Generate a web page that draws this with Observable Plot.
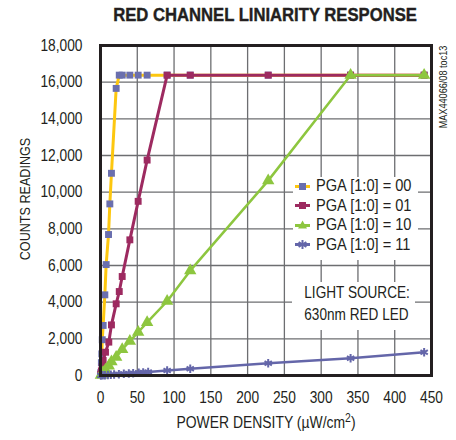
<!DOCTYPE html>
<html><head><meta charset="utf-8">
<script src="https://cdn.jsdelivr.net/npm/d3@7"></script>
<script src="https://cdn.jsdelivr.net/npm/@observablehq/plot@0.6"></script>
<style>
body{margin:0;background:#fff;}
#wrap{position:relative;width:456px;height:440px;font-family:"Liberation Sans",Arial,sans-serif;color:#231f20;overflow:hidden;}
#title{height:30px;position:relative;}
#title span{position:absolute;left:65px;width:400px;text-align:center;top:5px;font-size:18.5px;font-weight:bold;line-height:20px;-webkit-text-stroke:0.4px #231f20;transform:scaleX(0.9);transform-origin:50% 50%;}
.abs{position:absolute;white-space:nowrap;}
#legend{position:absolute;left:293px;top:177px;width:125px;height:83px;background:#fff;}
#light{position:absolute;left:292px;top:282px;width:123px;height:48px;background:#fff;}
</style></head>
<body><div id="wrap">
<div id="title"><span>RED CHANNEL LINIARITY RESPONSE</span></div>
<div id="chart"></div>
<div id="legend"></div>
<div id="light"></div>
</div>
<script>
// ---- data ----
const xTicks = [0, 50, 100, 150, 200, 250, 300, 350, 400, 450];
const yTicks = [0, 2000, 4000, 6000, 8000, 10000, 12000, 14000, 16000, 18000];
const seriesNames = ["PGA [1:0] = 00", "PGA [1:0] = 01", "PGA [1:0] = 10", "PGA [1:0] = 11"];

const pga00X = [0.3, 1.2, 1.8, 2.4, 3.6, 5.9, 7.7, 10.9, 12.7, 14.9, 21.3, 25.5, 29.5, 39.9, 51.2, 63.4, 90.6, 122, 228, 340, 440];
const pga00Y = [150, 700, 1180, 1950, 2730, 4400, 6050, 7690, 9360, 11030, 15660, 16383, 16383, 16383, 16383, 16383, 16383, 16383, 16383, 16383, 16383];

const pga01X = [0.3, 1.2, 2.3, 3.6, 6.8, 11.3, 14.9, 21.3, 25.5, 29.5, 39.9, 51.2, 63.4, 90.6, 122, 228, 340, 440];
const pga01Y = [60, 250, 480, 820, 1270, 1820, 2760, 3910, 4580, 5400, 7400, 9500, 11750, 16383, 16383, 16383, 16383, 16383];

const pga10X = [0.5, 2.3, 3.6, 6.8, 11.3, 14.9, 21.3, 29.5, 39.9, 51.2, 63.4, 90.6, 122, 228, 340, 440];
const pga10Y = [20, 110, 170, 310, 520, 760, 1000, 1420, 1870, 2360, 2900, 4050, 5720, 10630, 16383, 16383];

const pga11X = [0.5, 3, 6, 10, 14, 18.5, 25, 31.7, 38.5, 44.4, 52, 58, 64.8, 90.6, 122, 228, 340, 440];
const pga11Y = [2, 9, 18, 29, 41, 54, 73, 92, 112, 129, 151, 168, 188, 272, 365, 670, 943, 1270];

const lineColors = ["#fdc70f", "#9d2a60", "#8dc63f", "#6466a9"];
const markerColors = ["#6a6fae", "#9d2a60", "#8dc63f", "#6466a9"];
const symbols = ["square", "square", "triangle", "asterisk"];

const xs = [pga00X, pga01X, pga10X, pga11X];
const ys = [pga00Y, pga01Y, pga10Y, pga11Y];

const seriesData = seriesNames.map((name, k) => xs[k].map((x, i) => ({series: name, x, y: ys[k][i]})));

const marks = [
  Plot.gridX(xTicks, {stroke: "#6d6e71", strokeOpacity: 1, strokeWidth: 1.3}),
  Plot.gridY(yTicks, {stroke: "#6d6e71", strokeOpacity: 1, strokeWidth: 1.3})
];
seriesData.forEach((d, k) => {
  marks.push(Plot.line(d, {x: "x", y: "y", stroke: lineColors[k], strokeWidth: k < 2 ? 3 : 2.5}));
  if (symbols[k] === "asterisk") {
    marks.push(Plot.dot(d, {x: "x", y: "y", symbol: "asterisk", stroke: markerColors[k], strokeWidth: 2, r: 4}));
  } else {
    marks.push(Plot.dot(d, {x: "x", y: "y", symbol: symbols[k], fill: markerColors[k], r: symbols[k] === "triangle" ? 4.6 : 3.9}));
  }
});
marks.push(Plot.frame({stroke: "#231f20", strokeWidth: 3}));
marks.push(Plot.axisX(xTicks, {tickSize: 0, tickPadding: 16, label: null, fontSize: 16}));
marks.push(Plot.axisY(yTicks, {tickSize: 0, tickPadding: 18, label: null, tickFormat: d3.format(","), fontSize: 16}));

const chart = Plot.plot({
  width: 456, height: 410,
  marginTop: 15, marginBottom: 65, marginLeft: 100, marginRight: 25,
  x: {domain: [0, 450]},
  y: {domain: [0, 18000]},
  style: {fontFamily: '"Liberation Sans", Arial, sans-serif', fontSize: "16px", color: "#231f20", background: "#fff"},
  marks
});
document.getElementById("chart").appendChild(chart);
// condense tick labels horizontally (the reference uses a condensed face)
chart.querySelectorAll('g[aria-label$="tick label"] text').forEach(t => {
  const tr = t.getAttribute("transform") || "";
  t.setAttribute("transform", tr + " scale(0.86,1)");
});

// ---- legend ----
function markerSvg(k) {
  const c = markerColors[k];
  let m;
  if (symbols[k] === "square") m = `<rect x="6" y="3" width="7" height="7" fill="${c}"/>`;
  else if (symbols[k] === "triangle") m = `<polygon points="9.5,1.5 14,9.5 5,9.5" fill="${c}"/>`;
  else m = `<g stroke="${c}" stroke-width="2"><line x1="9.5" y1="2" x2="9.5" y2="11"/><line x1="5.6" y1="4.2" x2="13.4" y2="8.8"/><line x1="5.6" y1="8.8" x2="13.4" y2="4.2"/></g>`;
  return `<svg width="19" height="13" style="position:absolute;left:0;top:0"><line x1="2" y1="6.5" x2="17" y2="6.5" stroke="${lineColors[k]}" stroke-width="3"/>${m}</svg>`;
}
const legend = document.getElementById("legend");
seriesNames.forEach((name, k) => {
  const row = document.createElement("div");
  row.className = "abs";
  row.style.left = "0px";
  row.style.top = (9 + k * 19.6 - 6.5) + "px";
  row.style.width = "125px";
  row.style.height = "13px";
  row.innerHTML = markerSvg(k) + `<span style="position:absolute;left:23px;top:-3.5px;font-size:17px;line-height:20px;transform:scaleX(0.86);transform-origin:0 50%">${name}</span>`;
  legend.appendChild(row);
});

// ---- annotations ----
const light = document.getElementById("light");
light.innerHTML = `<div class="abs" style="left:0;width:123px;text-align:center;top:0px;font-size:17px;line-height:22.4px;transform:scaleX(0.8);transform-origin:50% 50%">LIGHT SOURCE:<br>630nm RED LED</div>`;

const wrap = document.getElementById("wrap");
function addText(html, x, y, style, rotate, sx) {
  const d = document.createElement("div");
  d.className = "abs";
  d.style.left = x + "px";
  d.style.top = y + "px";
  d.style.cssText += style;
  d.style.transform = "translate(-50%,-50%)" + (rotate ? " rotate(-90deg)" : "") + ` scale(${sx},1)`;
  d.innerHTML = html;
  wrap.appendChild(d);
}
addText("COUNTS READINGS", 25, 199, "font-size:15px;line-height:16px;", true, 0.84);
addText("POWER DENSITY (µW/cm<span style='font-size:12px;position:relative;top:-6px'>2</span>)", 265.5, 423, "font-size:16px;line-height:18px;", false, 0.87);
addText("MAX44066/08 toc13", 443, 86.5, "font-size:11px;line-height:11px;", true, 0.83);
</script>
</body></html>
